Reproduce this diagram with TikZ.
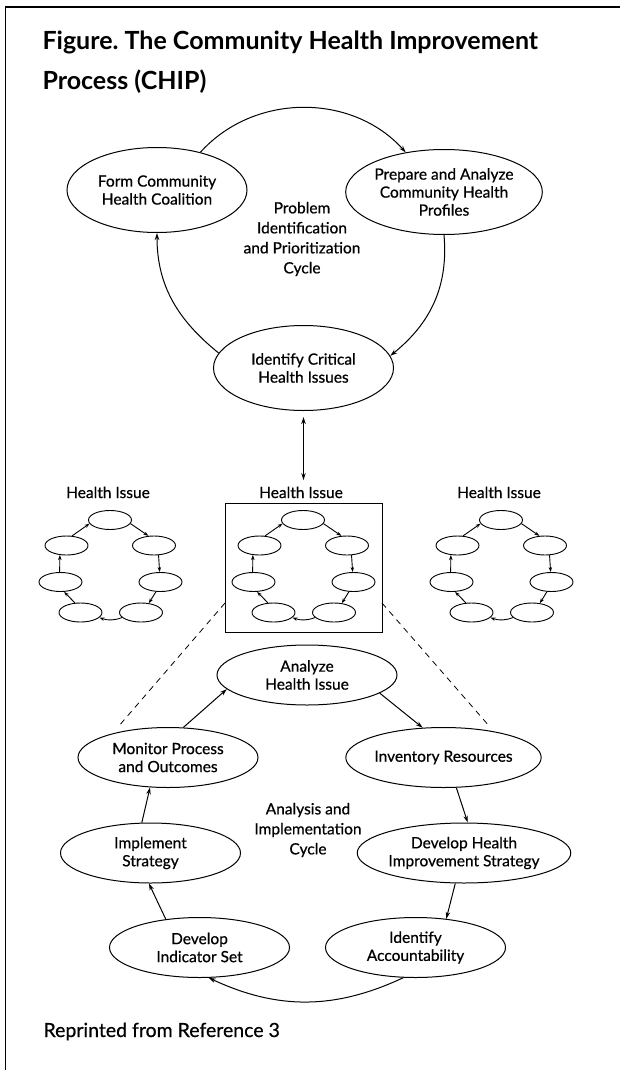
\documentclass[tikz,border=0pt]{standalone}
\usepackage{fontspec}
\setmainfont{Lato}
\newfontfamily\labelfont{Lato}[FakeBold=0.6]
\usepackage{tikz}
\usetikzlibrary{arrows.meta, shapes.geometric}

\begin{document}
\begin{tikzpicture}[x=1pt, y=1pt,
    every node/.style={font=\labelfont\fontsize{15.5}{18}\selectfont},
    stage/.style={ellipse, draw, line width=1pt, minimum width=180pt, minimum height=85pt, inner sep=0pt, align=center},
    lowstage/.style={stage, minimum height=60pt},
    mini/.style={ellipse, draw, line width=0.9pt, minimum width=43pt, minimum height=19pt, inner sep=0pt},
    flow/.style={-{Stealth[length=7pt,width=4.5pt]}, line width=1pt},
    miniflow/.style={-{Stealth[length=5pt,width=3.5pt]}, line width=0.9pt},
    cycletext/.style={align=center, font=\labelfont\fontsize{15.5}{20}\selectfont}]
  \useasboundingbox (0,0) rectangle (620,-1070);
  \draw[line width=1.2pt] (620,-7) -- (5.5,-7) -- (5.5,-1070);

  % title
  \node[anchor=base west, font=\fontsize{25}{30}\bfseries\selectfont] (title1) at (39,-50) {Figure.\ The Community Health Improvement};
  \node[anchor=base west, font=\fontsize{25}{30}\bfseries\selectfont] (title2) at (39,-90) {Process (CHIP)};

  % problem identification cycle
  \node[stage] (coalition) at (157,-190) {Form Community\\Health Coalition};
  \node[stage] (profiles) at (444,-192) {Prepare and Analyze\\Community Health\\Profiles};
  \node[stage] (critical) at (303.5,-368) {Identify Critical\\Health Issues};
  \node[cycletext] (pcycle) at (302,-239) {Problem\\Identification\\and Prioritization\\Cycle};
  \draw[flow] (coalition.41) to[out=48,in=132] (profiles.134);
  \draw[flow] (profiles.-90) to[out=-85,in=39] (critical.8);
  \draw[flow] (critical.170) to[out=141,in=-90] (coalition.south);

  % health issues
  \node[draw, line width=1pt, minimum width=157pt, minimum height=129pt, inner sep=0pt] (issuebox) at (303.5,-567.5) {};
  \foreach \cx/\cn in {110/a, 303/b, 501/c}{
    \node[anchor=base] (\cn0) at (\cx-2,-498) {Health Issue};
    \node[mini] (\cn1) at (\cx,-520) {};
    \node[mini] (\cn2) at (\cx+44,-545.5) {};
    \node[mini] (\cn3) at (\cx+50.5,-582) {};
    \node[mini] (\cn4) at (\cx+31,-612.5) {};
    \node[mini] (\cn5) at (\cx-29.5,-612.5) {};
    \node[mini] (\cn6) at (\cx-49.5,-582) {};
    \node[mini] (\cn7) at (\cx-43.5,-545.5) {};
    \draw[miniflow] (\cn1.-10) -- (\cn2.120);
    \draw[miniflow] (\cn2.-65) -- (\cn3.95);
    \draw[miniflow] (\cn3.-115) -- (\cn4.50);
    \draw[miniflow] (\cn4.195) to[bend left=20] (\cn5.-15);
    \draw[miniflow] (\cn5.120) -- (\cn6.-70);
    \draw[miniflow] (\cn6.95) -- (\cn7.-125);
    \draw[miniflow] (\cn7.60) -- (\cn1.190);
  }
  \draw[{Stealth[length=7pt,width=4.5pt]}-{Stealth[length=7pt,width=4.5pt]}, line width=1pt, shorten <=6pt, shorten >=3pt]
    (critical.south) -- (critical.south |- b0.north);

  % zoom lines
  \coordinate (zoomL) at (225,-603);
  \coordinate (zoomLend) at (118,-727);
  \coordinate (zoomR) at (382,-603);
  \coordinate (zoomRend) at (490,-727);
  \draw[line width=0.8pt, dash pattern=on 6pt off 5pt] (zoomL) -- (zoomLend);
  \draw[line width=0.8pt, dash pattern=on 6pt off 5pt] (zoomR) -- (zoomRend);

  % analysis and implementation cycle
  \node[lowstage] (analyze) at (307,-675) {Analyze\\Health Issue};
  \node[lowstage] (inventory) at (443.5,-757.5) {Inventory Resources};
  \node[lowstage] (strategy) at (464,-853) {Develop Health\\Improvement Strategy};
  \node[lowstage] (account) at (415.5,-947.5) {Identify\\Accountability};
  \node[lowstage] (indicator) at (199.5,-947.5) {Develop\\Indicator Set};
  \node[lowstage] (implement) at (150.5,-853) {Implement\\Strategy};
  \node[lowstage] (monitor) at (168,-757.5) {Monitor Process\\and Outcomes};
  \node[cycletext] (acycle) at (308,-830) {Analysis and\\Implementation\\Cycle};
  \draw[flow] (analyze.-14) -- (inventory.125);
  \draw[flow] (inventory.-67) -- (strategy.83);
  \draw[flow] (strategy.254) -- (account.43);
  \draw[flow] (account.248) to[bend left=25] (indicator.287);
  \draw[flow] (indicator.140) -- (implement.267);
  \draw[flow] (implement.106) -- (monitor.239);
  \draw[flow] (monitor.63) -- (analyze.190);

  \node[anchor=base west, font=\labelfont\fontsize{19.5}{24}\selectfont] (source) at (40,-1037) {Reprinted from Reference 3};
\end{tikzpicture}
\end{document}
